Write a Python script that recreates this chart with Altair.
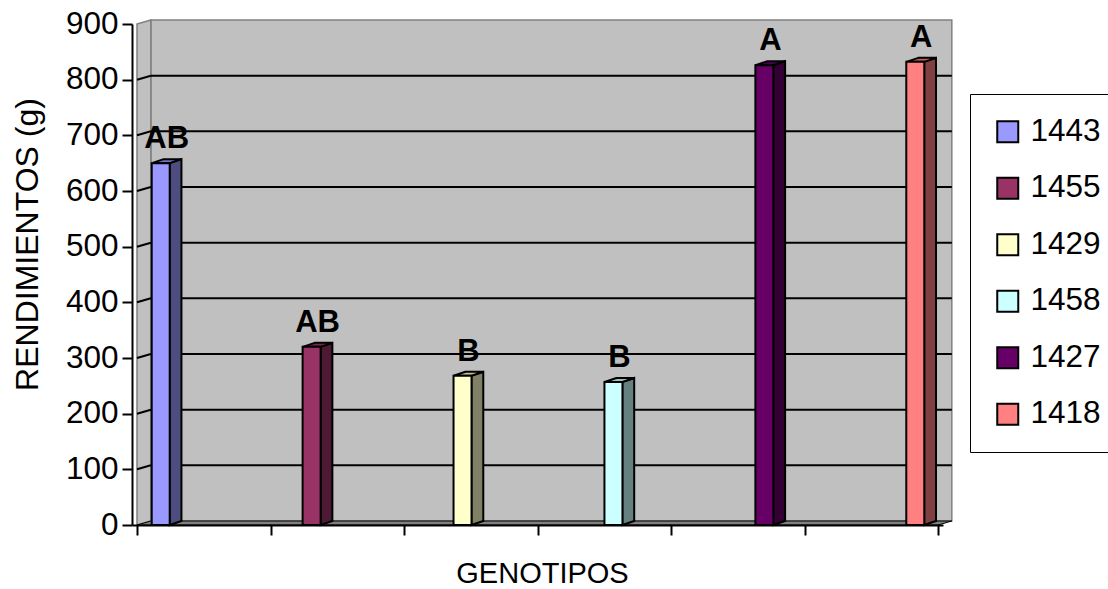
import altair as alt
import pandas as pd

# ---- data ----
genotypes = ["1443", "1455", "1429", "1458", "1427", "1418"]
yields_g = [650, 320, 268, 257, 826, 832]
letters = ["AB", "AB", "B", "B", "A", "A"]

front_colors = ["#9999FF", "#993366", "#FFFFCC", "#CCFFFF", "#660066", "#FF8080"]
side_colors = ["#4D4D80", "#4D1A33", "#808066", "#668080", "#330033", "#804040"]
top_colors = ["#7373BF", "#73264D", "#BFBF99", "#99BFBF", "#4D004D", "#BF6060"]

y_ticks = [0, 100, 200, 300, 400, 500, 600, 700, 800, 900]
grid_levels = [100, 200, 300, 400, 500, 600, 700, 800]

# ---- layout (pixels) ----
PLOT_W, PLOT_H = 811, 501
LEFT, TOP = 132, 24
CANVAS_W, CANVAS_H = 1108, 589
SLOT = 152.8          # distance between neighbouring bars
FIRST = 24            # y axis -> centre of first bar's front face
Y_MAX = 900
BAR_HALF = 9          # half width of a bar's front face
BAR_DX, BAR_DY = 12, 4
WALL_DX, WALL_DY = 14, 4
FONT = "Liberation Sans"

X_MIN = -FIRST / SLOT
X_MAX = X_MIN + PLOT_W / SLOT


def ux(px):
    return px / SLOT


def uy(px):
    return px * Y_MAX / PLOT_H


# ---- tables built from the arrays ----
bars = pd.DataFrame({
    "genotype": genotypes,
    "pos": list(range(len(genotypes))),
    "value": yields_g,
    "letter": letters,
})

side_rows, top_rows = [], []
for i, (g, v) in enumerate(zip(genotypes, yields_g)):
    side_rows.append({"genotype": g, "sx": i + ux(BAR_HALF), "sy": v, "sy2": 0,
                      "fill": side_colors[i]})
    side_rows.append({"genotype": g, "sx": i + ux(BAR_HALF + BAR_DX),
                      "sy": v + uy(BAR_DY), "sy2": uy(BAR_DY), "fill": side_colors[i]})
    top_rows.append({"genotype": g, "ty": v, "tx": i - ux(BAR_HALF),
                     "tx2": i + ux(BAR_HALF), "fill": top_colors[i]})
    top_rows.append({"genotype": g, "ty": v + uy(BAR_DY),
                     "tx": i - ux(BAR_HALF) + ux(BAR_DX),
                     "tx2": i + ux(BAR_HALF) + ux(BAR_DX), "fill": top_colors[i]})
sides = pd.DataFrame(side_rows)
tops = pd.DataFrame(top_rows)

wall = pd.DataFrame([{"x": X_MIN + ux(WALL_DX), "x2": X_MAX + ux(WALL_DX),
                      "y": uy(WALL_DY), "y2": Y_MAX + uy(WALL_DY)}])
left_wall = pd.DataFrame([
    {"x": X_MIN, "y": Y_MAX, "y2": 0},
    {"x": X_MIN + ux(WALL_DX), "y": Y_MAX + uy(WALL_DY), "y2": uy(WALL_DY)},
])
floor = pd.DataFrame([
    {"y": 0, "x": X_MIN, "x2": X_MAX},
    {"y": uy(WALL_DY), "x": X_MIN + ux(WALL_DX), "x2": X_MAX + ux(WALL_DX)},
])
grid = pd.DataFrame([{"x": X_MIN + ux(WALL_DX), "x2": X_MAX + ux(WALL_DX),
                      "y": v + uy(WALL_DY)} for v in grid_levels])
grid_diag = pd.DataFrame([{"x": X_MIN, "x2": X_MIN + ux(WALL_DX),
                           "y": v, "y2": v + uy(WALL_DY)} for v in grid_levels])

# ---- scales and axes shared by every layer ----
x_scale = alt.Scale(domain=[X_MIN, X_MAX], nice=False, zero=False)
y_scale = alt.Scale(domain=[0, Y_MAX], nice=False)

x_axis = alt.Axis(
    values=[X_MIN + j * (X_MAX - X_MIN) / 6 for j in range(7)],
    labels=False, grid=False, domainColor="black", domainWidth=2,
    tickColor="black", tickWidth=2, tickSize=10, title="GENOTIPOS",
    titleFont=FONT, titleFontSize=29, titleFontWeight="normal",
    titleColor="black", titleX=410, titleY=57, titleBaseline="alphabetic",
    titleAlign="center", zindex=1,
)
y_axis = alt.Axis(
    values=y_ticks, grid=False, domainColor="black", domainWidth=2,
    tickColor="black", tickWidth=2, tickSize=10, labelPadding=4,
    labelFont=FONT, labelFontSize=31.5, labelColor="black",
    title="RENDIMIENTOS (g)", titleFont=FONT, titleFontSize=32,
    titleFontWeight="normal", titleColor="black", titleAngle=270,
    titleX=-105, titleY=220, titleAlign="center", titleBaseline="middle",
    zindex=1,
)


def X(field):
    return alt.X(field, type="quantitative", scale=x_scale, axis=x_axis)


def Y(field):
    return alt.Y(field, type="quantitative", scale=y_scale, axis=y_axis)


# ---- layers ----
wall_layer = alt.Chart(wall).mark_rect(
    fill="#C0C0C0", stroke="#808080", strokeWidth=1.5
).encode(x=X("x"), x2="x2", y=Y("y"), y2="y2")

left_wall_layer = alt.Chart(left_wall).mark_area(
    fill="#C0C0C0", stroke="#808080", strokeWidth=1.5
).encode(x=X("x"), y=Y("y"), y2="y2")

floor_layer = alt.Chart(floor).mark_area(
    orient="horizontal", fill="#808080", stroke="black", strokeWidth=1
).encode(y=Y("y"), x=X("x"), x2="x2")

grid_layer = alt.Chart(grid).mark_rule(color="black", strokeWidth=2).encode(
    x=X("x"), x2="x2", y=Y("y")
)
grid_diag_layer = alt.Chart(grid_diag).mark_rule(color="black", strokeWidth=2).encode(
    x=X("x"), x2="x2", y=Y("y"), y2="y2"
)

side_layer = alt.Chart(sides).mark_area(stroke="black", strokeWidth=2).encode(
    x=X("sx"), y=Y("sy"), y2="sy2",
    fill=alt.Fill("fill:N", scale=None),
    detail="genotype:N",
)
top_layer = alt.Chart(tops).mark_area(
    orient="horizontal", stroke="black", strokeWidth=2
).encode(
    y=Y("ty"), x=X("tx"), x2="tx2",
    fill=alt.Fill("fill:N", scale=None),
    detail="genotype:N",
)

front_layer = alt.Chart(bars).mark_bar(
    size=2 * BAR_HALF, stroke="black", strokeWidth=2, opacity=1
).encode(
    x=X("pos"),
    y=Y("value"),
    color=alt.Color(
        "genotype:N",
        scale=alt.Scale(domain=genotypes, range=front_colors),
        legend=alt.Legend(
            title=None, orient="none", legendX=838, legendY=70,
            fillColor="white", strokeColor="black", padding=22,
            symbolType="square", symbolSize=441, symbolStrokeColor="black",
            symbolStrokeWidth=2, symbolOpacity=1,
            labelFont=FONT, labelFontSize=31.5, labelColor="black",
            labelOffset=7, rowPadding=23.5,
        ),
    ),
)

label_layer = alt.Chart(bars).mark_text(
    font=FONT, fontSize=31, fontWeight="bold", color="black",
    baseline="alphabetic", align="center", dx=6, dy=-15,
).encode(x=X("pos"), y=Y("value"), text="letter:N")

chart = alt.layer(
    wall_layer, left_wall_layer, floor_layer, grid_layer, grid_diag_layer,
    side_layer, top_layer, front_layer, label_layer,
).properties(
    width=PLOT_W, height=PLOT_H,
    padding={"left": LEFT, "top": TOP,
             "right": CANVAS_W - LEFT - PLOT_W,
             "bottom": CANVAS_H - TOP - PLOT_H},
    autosize=alt.AutoSizeParams(type="none"),
    background="white",
).configure_view(stroke=None)

chart.save("out.html", embed_options={"renderer": "svg", "actions": False})
